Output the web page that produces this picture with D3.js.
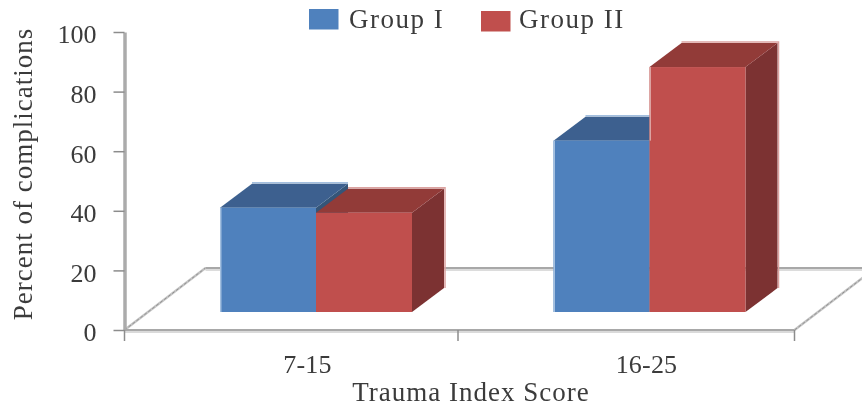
<!DOCTYPE html>
<html lang="en">
<head>
  <meta charset="UTF-8">
  <title>Complications by Trauma Index Score</title>
  <style>
      html, body { margin: 0; padding: 0; background: #fff; }
      svg { display: block; }
      text { font-family: "Liberation Serif", serif; fill: #3b3b3b; font-size: 27px; letter-spacing: 1px; }
  </style>
</head>
<body>
<div id="chart"></div>
<script src="https://d3js.org/d3.v7.min.js"></script>
<script>
  const categories = ['7-15', '16-25'];
  const groups = ['Group I', 'Group II'];
  const groupOne = [35, 57.5];
  const groupTwo = [33.3, 82.2];
  const yTicks = [0, 20, 40, 60, 80, 100];

  const colors = {
    'Group I': {front: '#4f81bd', top: '#3c618f', side: '#345478', edge: '#a3bfdf'},
    'Group II': {front: '#c0504d', top: '#923a39', side: '#7b3130', edge: '#dca3a1'}
  };

  const width = 862, height = 406;
  const axisX = 124.5, axisY = 330;
  const depthX = 81, depthY = 62;     // floor depth
  const barDx = 32, barDy = 24;       // bar depth
  const barBase = 312;                // front edge of the bars on the floor

  const svg = d3.select('#chart').append('svg')
    .attr('width', width)
    .attr('height', height);

  const defs = svg.append('defs');
  defs.append('filter').attr('id', 'soft')
    .append('feGaussianBlur').attr('stdDeviation', 0.5);

  const root = svg.append('g').attr('filter', 'url(#soft)');

  const x = d3.scalePoint().domain(categories).range([220, 553.5]);
  const xLabel = d3.scalePoint().domain(categories).range([307.5, 646.5]);
  const xGroup = d3.scaleBand().domain(groups).range([0, 192]);
  const y = d3.scaleLinear().domain([0, 100]).range([axisY, 32]);

  // floor
  const floor = root.append('g').attr('fill', 'none');
  floor.append('path')
    .attr('d', `M${axisX + depthX},${axisY - depthY + 1.5}H${width}`)
    .attr('stroke', '#dcdcdc').attr('stroke-width', 3);
  floor.append('path')
    .attr('d', `M${axisX + depthX},${axisY - depthY}H${width}`)
    .attr('stroke', '#a8a8a8').attr('stroke-width', 2);
  [axisX, 794.5].forEach(x0 => {
    floor.append('path')
      .attr('d', `M${x0},${axisY}L${x0 + depthX},${axisY - depthY}`)
      .attr('stroke', '#c4c4c4').attr('stroke-width', 2.5);
    floor.append('path')
      .attr('d', `M${x0},${axisY}L${x0 + depthX},${axisY - depthY}`)
      .attr('stroke', '#8f8f8f').attr('stroke-width', 1).attr('stroke-dasharray', '3 2');
  });

  // axes
  const yAxis = root.append('g')
    .attr('transform', `translate(${axisX},0)`)
    .call(d3.axisLeft(y).tickValues(yTicks).tickSize(11).tickSizeOuter(0).tickPadding(17));
  yAxis.select('.domain').attr('stroke', '#ababab').attr('stroke-width', 3.5);
  yAxis.selectAll('.tick line').attr('stroke', '#8c8c8c').attr('stroke-width', 1.5);
  yAxis.selectAll('.tick text')
    .attr('dy', '0.42em')
    .attr('font-family', null)
    .style('font-size', '26px')
    .style('letter-spacing', '0');

  root.append('path')
    .attr('d', `M${axisX},${axisY + 1.5}H794.5`)
    .attr('stroke', '#dadada').attr('stroke-width', 3);
  root.append('path')
    .attr('d', `M${axisX},${axisY}H794.5`)
    .attr('stroke', '#a8a8a8').attr('stroke-width', 2);

  const xEdges = [124.5, 458, 794.5];
  root.append('g').selectAll('line')
    .data(xEdges)
    .join('line')
    .attr('x1', d => d).attr('x2', d => d)
    .attr('y1', axisY).attr('y2', axisY + 11)
    .attr('stroke', '#8c8c8c').attr('stroke-width', 1.5);

  root.append('g').selectAll('text')
    .data(categories)
    .join('text')
    .attr('x', c => xLabel(c))
    .attr('y', 373)
    .attr('text-anchor', 'middle')
    .style('font-size', '26px')
    .style('letter-spacing', '0.2px')
    .text(c => c);

  // 3D bars
  const values = {'Group I': groupOne, 'Group II': groupTwo};
  const barHeight = v => y(0) - y(v);

  categories.forEach((cat, i) => {
    groups.forEach((g, j) => {
      const x0 = x(cat) + xGroup(g);
      const x1 = x0 + xGroup.bandwidth();
      const top = barBase - barHeight(values[g][i]);
      const c = colors[g];
      const bar = root.append('g');

      // pale halo along the back of the box
      bar.append('path')
        .attr('d', j === 1
          ? `M${x0 + barDx},${top - barDy - 1}H${x1 + barDx + 1}V${barBase - barDy}`
          : `M${x0 + barDx},${top - barDy - 1}H${x1 + barDx}`)
        .attr('fill', 'none').attr('stroke', c.edge).attr('stroke-width', 1.5);
      bar.append('path')
        .attr('d', `M${x1},${top}L${x1 + barDx},${top - barDy}V${barBase - barDy}L${x1},${barBase}Z`)
        .attr('fill', c.side);
      bar.append('path')
        .attr('d', `M${x0},${top}L${x0 + barDx},${top - barDy}H${x1 + barDx}L${x1},${top}Z`)
        .attr('fill', c.top);
      bar.append('rect')
        .attr('x', x0).attr('y', top)
        .attr('width', xGroup.bandwidth()).attr('height', barBase - top)
        .attr('fill', c.front);
      // the left edge shows only where nothing stands next to it
      const neighbourTop = j === 0 ? barBase : barBase - barHeight(groupOne[i]);
      if (neighbourTop > top) {
        bar.append('rect')
          .attr('x', x0).attr('y', top)
          .attr('width', 1.5).attr('height', neighbourTop - top)
          .attr('fill', c.edge);
      }
    });
  });

  // legend
  const legendX = [309, 481];
  const legendTextX = [349, 519];
  const legendY = [9, 11];
  const legend = root.append('g');
  groups.forEach((g, i) => {
    legend.append('rect')
      .attr('x', legendX[i]).attr('y', legendY[i])
      .attr('width', 29.5).attr('height', 20.5)
      .attr('fill', colors[g].front);
    legend.append('text')
      .attr('x', legendTextX[i]).attr('y', 28)
      .style('letter-spacing', '1.5px')
      .text(g);
  });

  // axis titles
  root.append('text')
    .attr('transform', 'translate(32,174) rotate(-90)')
    .attr('text-anchor', 'middle')
    .text('Percent of complications');

  root.append('text')
    .attr('x', 471).attr('y', 401)
    .attr('text-anchor', 'middle')
    .text('Trauma Index Score');
</script>
</body>
</html>
